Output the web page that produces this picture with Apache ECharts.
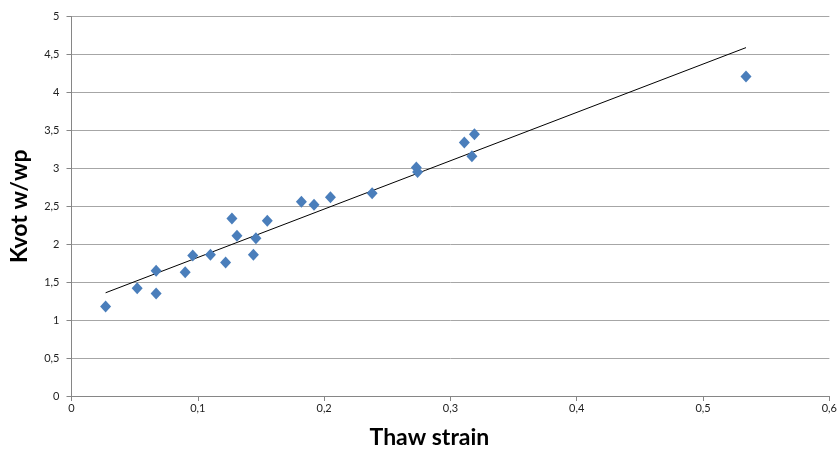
<!DOCTYPE html>
<html>
<head>
<meta charset="utf-8">
<script src="https://cdn.jsdelivr.net/npm/echarts@6/dist/echarts.min.js"></script>
<style>
  html, body { margin: 0; padding: 0; background: #fff; }
  #chart { width: 840px; height: 454px; }
</style>
</head>
<body>
<div id="chart"></div>
<script>
// measured points (thaw strain, kvot w/wp)
const thawStrain = [0.027, 0.052, 0.067, 0.067, 0.090, 0.096, 0.110, 0.122, 0.127, 0.131, 0.144, 0.146, 0.155, 0.182, 0.192, 0.205, 0.238, 0.273, 0.274, 0.311, 0.317, 0.319, 0.534];
const kvot = [1.18, 1.42, 1.65, 1.35, 1.63, 1.85, 1.86, 1.76, 2.34, 2.11, 1.86, 2.08, 2.31, 2.56, 2.52, 2.62, 2.67, 3.01, 2.95, 3.34, 3.16, 3.45, 4.21];
// linear trend line end points
const trendX = [0.027, 0.534];
const trendY = [1.36, 4.59];

const xTicks = [0, 0.1, 0.2, 0.3, 0.4, 0.5, 0.6];
const yTicks = [0, 0.5, 1, 1.5, 2, 2.5, 3, 3.5, 4, 4.5, 5];

const fmt = (v) => String(v).replace('.', ',');
const font = 'Lato, "Open Sans", sans-serif';

const chart = echarts.init(document.getElementById('chart'));
chart.setOption({
  backgroundColor: '#fff',
  animation: false,
  textStyle: { fontFamily: font },
  grid: { left: 71.5, right: 10, top: 16.5, bottom: 53.5, containLabel: false },
  xAxis: {
    type: 'value',
    min: xTicks[0],
    max: xTicks[xTicks.length - 1],
    interval: 0.1,
    name: 'Thaw strain',
    nameLocation: 'middle',
    nameGap: 30,
    nameTextStyle: { fontSize: 23, fontWeight: 'bold', color: '#000', fontFamily: font, padding: [0, 42, 0, 0] },
    axisLine: { lineStyle: { color: '#868686', width: 1 } },
    axisTick: { show: true, length: 5, lineStyle: { color: '#868686' } },
    axisLabel: { fontSize: 11, color: '#222', margin: 7, formatter: fmt },
    splitLine: { show: false },
  },
  yAxis: {
    type: 'value',
    min: yTicks[0],
    max: yTicks[yTicks.length - 1],
    interval: 0.5,
    name: 'Kvot w/wp',
    nameLocation: 'middle',
    nameGap: 40,
    nameTextStyle: { fontSize: 23, fontWeight: 'bold', color: '#000', fontFamily: font },
    axisLine: { show: true, lineStyle: { color: '#868686', width: 1 } },
    axisTick: { show: true, length: 5, lineStyle: { color: '#868686' } },
    axisLabel: { fontSize: 11, color: '#222', margin: 12, formatter: fmt },
    splitLine: { lineStyle: { color: '#a6a6a6', width: 1 } },
  },
  series: [
    {
      type: 'line',
      data: trendX.map((x, i) => [x, trendY[i]]),
      symbol: 'none',
      lineStyle: { color: '#000', width: 1 },
      z: 1,
    },
    {
      type: 'scatter',
      data: thawStrain.map((x, i) => [x, kvot[i]]),
      symbol: 'diamond',
      symbolSize: [11, 12],
      itemStyle: { color: '#4a7ebb', opacity: 1 },
      z: 2,
    },
  ],
});
</script>
</body>
</html>
